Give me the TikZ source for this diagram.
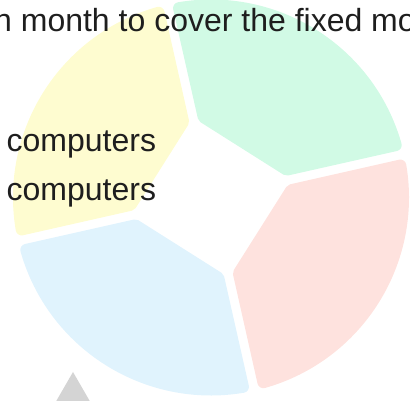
\documentclass[tikz,border=0pt]{standalone}
\usepackage{fontspec}
\setmainfont{Liberation Sans}
\usepackage{xcolor}

\definecolor{SegYellow}{HTML}{FEFCD0}
\definecolor{SegGreen}{HTML}{D1FAE5}
\definecolor{SegRed}{HTML}{FEE2DE}
\definecolor{SegBlue}{HTML}{E0F3FD}
\definecolor{MarkGray}{HTML}{D4D4D4}
\definecolor{Ink}{HTML}{1E1E1E}

\begin{document}
\begin{tikzpicture}[x=1pt, y=1pt]
      \tikzstyle segment=[line width=12pt, line join=round];
      \tikzstyle caption=[inner sep=0pt, anchor=base west, text=Ink, font=\fontsize{32}{36}\selectfont];

      \useasboundingbox (0, 0) rectangle (410, 401);
      \clip (0, 0) rectangle (410, 401);

      %the four pieces of the ring, around the square hole
      \begin{scope}[shift={(211, 203.5)}]
        \filldraw[segment, fill=SegGreen, draw=SegGreen]
           (20.2:80.7pt) -- (15.83:192pt) arc[start angle=15.83, end angle=99.57, radius=192pt]
           -- (95.2:80.7pt) -- cycle;
        \filldraw[segment, fill=SegYellow, draw=SegYellow]
           (110.2:80.7pt) -- (105.83:192pt) arc[start angle=105.83, end angle=189.57, radius=192pt]
           -- (185.2:80.7pt) -- cycle;
        \filldraw[segment, fill=SegBlue, draw=SegBlue]
           (200.2:80.7pt) -- (195.83:192pt) arc[start angle=195.83, end angle=279.57, radius=192pt]
           -- (275.2:80.7pt) -- cycle;
        \filldraw[segment, fill=SegRed, draw=SegRed]
           (290.2:80.7pt) -- (285.83:192pt) arc[start angle=285.83, end angle=369.57, radius=192pt]
           -- (365.2:80.7pt) -- cycle;
      \end{scope}

      \node[caption] (heading) at (-6, 369) {n month to cover the fixed mo};
      \node[caption] (itemone) at (6.5, 249) {computers};
      \node[caption] (itemtwo) at (6.5, 200) {computers};

      \fill[MarkGray] (73, 29) -- (43, -23) -- (103, -23) -- cycle;
\end{tikzpicture}
\end{document}
